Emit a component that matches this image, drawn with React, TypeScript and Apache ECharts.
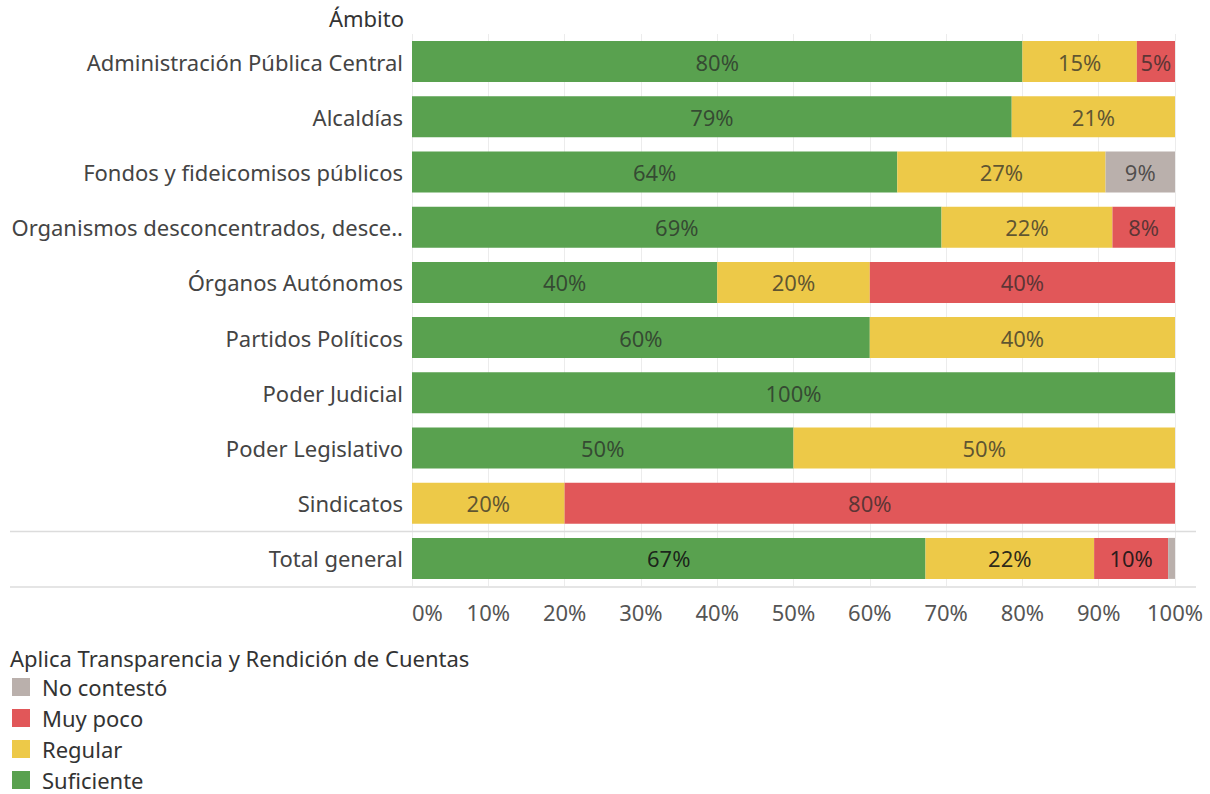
import React, { useEffect, useRef } from "react";
import * as echarts from "echarts";

const categories = [
  "Administración Pública Central",
  "Alcaldías",
  "Fondos y fideicomisos públicos",
  "Organismos desconcentrados, desce..",
  "Órganos Autónomos",
  "Partidos Políticos",
  "Poder Judicial",
  "Poder Legislativo",
  "Sindicatos",
  "Total general",
];

const suficiente = [80, 78.6, 63.6, 69.4, 40, 60, 100, 50, null, 67.3];
const regular = [15, 21.4, 27.3, 22.4, 20, 40, null, 50, 20, 22.1];
const muyPoco = [5, null, null, 8.2, 40, null, null, null, 80, 9.7];
const noContesto = [null, null, 9.1, null, null, null, null, null, null, 0.9];

const xTicks = [0, 10, 20, 30, 40, 50, 60, 70, 80, 90, 100];

const seriesNames = ["Suficiente", "Regular", "Muy poco", "No contestó"];
const seriesColors = ["#59a14f", "#edc948", "#e15759", "#bab0ac"];
const legendOrder = ["No contestó", "Muy poco", "Regular", "Suficiente"];
const legendTitle = "Aplica Transparencia y Rendición de Cuentas";
const axisTitle = "Ámbito";

const FONT = "'Noto Sans', 'Open Sans', sans-serif";
const FS = 22;

export default function App() {
  const ref = useRef<HTMLDivElement>(null);

  useEffect(() => {
    if (!ref.current) return;
    const chart = echarts.init(ref.current, null, { renderer: "svg" });
    const seriesData = [suficiente, regular, muyPoco, noContesto];
    const lastIdx = categories.length - 1;

    const option: any = {
      animation: false,
      backgroundColor: "#ffffff",
      textStyle: { fontFamily: FONT },
      grid: { left: 412, right: 35, top: 34, bottom: 208, containLabel: false },
      xAxis: {
        type: "value",
        min: xTicks[0],
        max: xTicks[xTicks.length - 1],
        interval: 10,
        axisLine: { show: false },
        axisTick: { show: false },
        splitLine: { show: true, lineStyle: { color: "#ececec", width: 1 } },
        axisLabel: {
          formatter: (v: number) => `${v}%`,
          fontSize: FS,
          color: "#555",
          fontFamily: FONT,
          margin: 15,
          alignMinLabel: "left",
          showMaxLabel: true,
        },
      },
      yAxis: {
        type: "category",
        data: categories,
        inverse: true,
        axisLine: { show: false },
        axisTick: { show: false },
        axisLabel: { fontSize: FS, color: "#444", fontFamily: FONT, margin: 9 },
      },
      legend: {
        orient: "vertical",
        left: 12,
        top: 676,
        height: 140,
        padding: 0,
        data: legendOrder,
        icon: "rect",
        itemWidth: 18,
        itemHeight: 18,
        itemGap: 9,
        selectedMode: false,
        textStyle: {
          fontSize: FS,
          color: "#333",
          fontFamily: FONT,
          padding: [0, 0, 0, 7],
        },
      },
      graphic: [
        {
          type: "text",
          right: 1210 - 404,
          top: 7,
          style: { text: axisTitle, fontSize: FS, fill: "#333", fontFamily: FONT },
        },
        {
          type: "text",
          left: 10,
          top: 647,
          style: { text: legendTitle, fontSize: FS, fill: "#333", fontFamily: FONT },
        },
        {
          type: "line",
          shape: { x1: 10, y1: 531.5, x2: 1196, y2: 531.5 },
          style: { stroke: "#dcdcdc", lineWidth: 1.5 },
          z: 10,
        },
        {
          type: "line",
          shape: { x1: 10, y1: 587, x2: 1196, y2: 587 },
          style: { stroke: "#dcdcdc", lineWidth: 1.5 },
          z: 10,
        },
      ],
      series: seriesNames.map((name, si) => ({
        name,
        type: "bar",
        stack: "total",
        barWidth: 41,
        itemStyle: { color: seriesColors[si] },
        data: seriesData[si].map((v, i) => ({
          value: v,
          label: {
            show: v != null && v >= 3,
            color: i === lastIdx ? "rgba(20,20,20,0.9)" : "rgba(40,40,40,0.72)",
          },
        })),
        label: {
          show: true,
          position: "inside",
          fontSize: FS,
          fontFamily: FONT,
          formatter: (p: any) => `${Math.round(p.value)}%`,
        },
      })),
    };

    chart.setOption(option);
    return () => chart.dispose();
  }, []);

  return (
    <div
      ref={ref}
      style={{ position: "fixed", left: 0, top: 0, width: 1210, height: 794 }}
    />
  );
}
